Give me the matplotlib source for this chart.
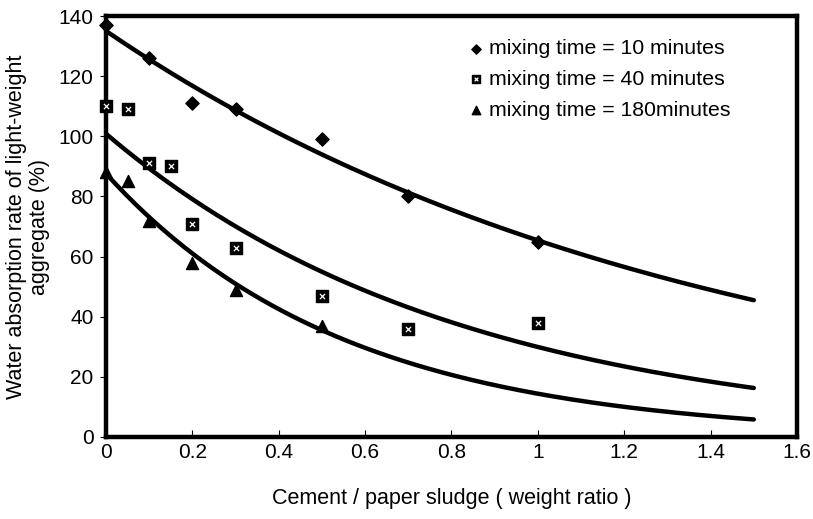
import numpy as np
import matplotlib
matplotlib.use('Agg')
import matplotlib.pyplot as plt

plt.rcParams['font.family'] = ['Liberation Sans', 'DejaVu Sans']

# cement / paper sludge weight ratio and water absorption (%)
x_10 = [0, 0.1, 0.2, 0.3, 0.5, 0.7, 1.0]
y_10 = [137, 126, 111, 109, 99, 80, 65]

x_40 = [0, 0.05, 0.1, 0.15, 0.2, 0.3, 0.5, 0.7, 1.0]
y_40 = [110, 109, 91, 90, 71, 63, 47, 36, 38]

x_180 = [0, 0.05, 0.1, 0.2, 0.3, 0.5]
y_180 = [88, 85, 72, 58, 49, 37]

labels = ['mixing time = 10 minutes', 'mixing time = 40 minutes',
          'mixing time = 180minutes']

fig = plt.figure(figsize=(8.13, 5.19), dpi=100)
ax = fig.add_axes([0.1304, 0.158, 0.8499, 0.811])

# exponential trend lines (fit on log y, like a spreadsheet trendline)
xs = np.linspace(0, 1.5, 200)
for xd, yd in [(x_10, y_10), (x_40, y_40), (x_180, y_180)]:
    b, a = np.polyfit(xd, np.log(yd), 1)
    ax.plot(xs, np.exp(a) * np.exp(b * xs), color='black', lw=3.2, zorder=2,
            solid_capstyle='round')

h1 = ax.scatter(x_10, y_10, marker='D', s=45, color='black', zorder=3,
                clip_on=False)
h2 = ax.scatter(x_40, y_40, marker='s', s=80, color='black', zorder=3,
                clip_on=False)
h2b = ax.scatter(x_40, y_40, marker='x', s=14, color='white', lw=0.9,
                 zorder=4, clip_on=False)
h3 = ax.scatter(x_180, y_180, marker='^', s=75, color='black', zorder=3,
                clip_on=False)

ax.set_xlim(0, 1.6)
ax.set_ylim(0, 140)
ax.set_xticks(np.arange(0, 1.61, 0.2))
ax.set_xticklabels(['0', '0.2', '0.4', '0.6', '0.8', '1', '1.2', '1.4', '1.6'])
ax.set_yticks(np.arange(0, 141, 20))
ax.tick_params(axis='x', direction='in', length=5, labelsize=15, pad=4)
ax.tick_params(axis='y', direction='out', length=4, labelsize=15, pad=5)
for s in ax.spines.values():
    s.set_linewidth(3.2)

ax.set_xlabel('Cement / paper sludge ( weight ratio )', fontsize=15.5,
              labelpad=19)
ax.set_ylabel('Water absorption rate of light-weight\naggregate (%)',
              fontsize=15.5, labelpad=6, linespacing=1.15)

ax.legend([h1, (h2, h2b), h3], labels, loc='upper left',
          bbox_to_anchor=(0.505, 0.965), frameon=False, fontsize=15.3,
          handletextpad=0.0, labelspacing=0.55, borderaxespad=0,
          markerscale=0.7, handlelength=1.2)

fig.savefig('out.png', dpi=100)
